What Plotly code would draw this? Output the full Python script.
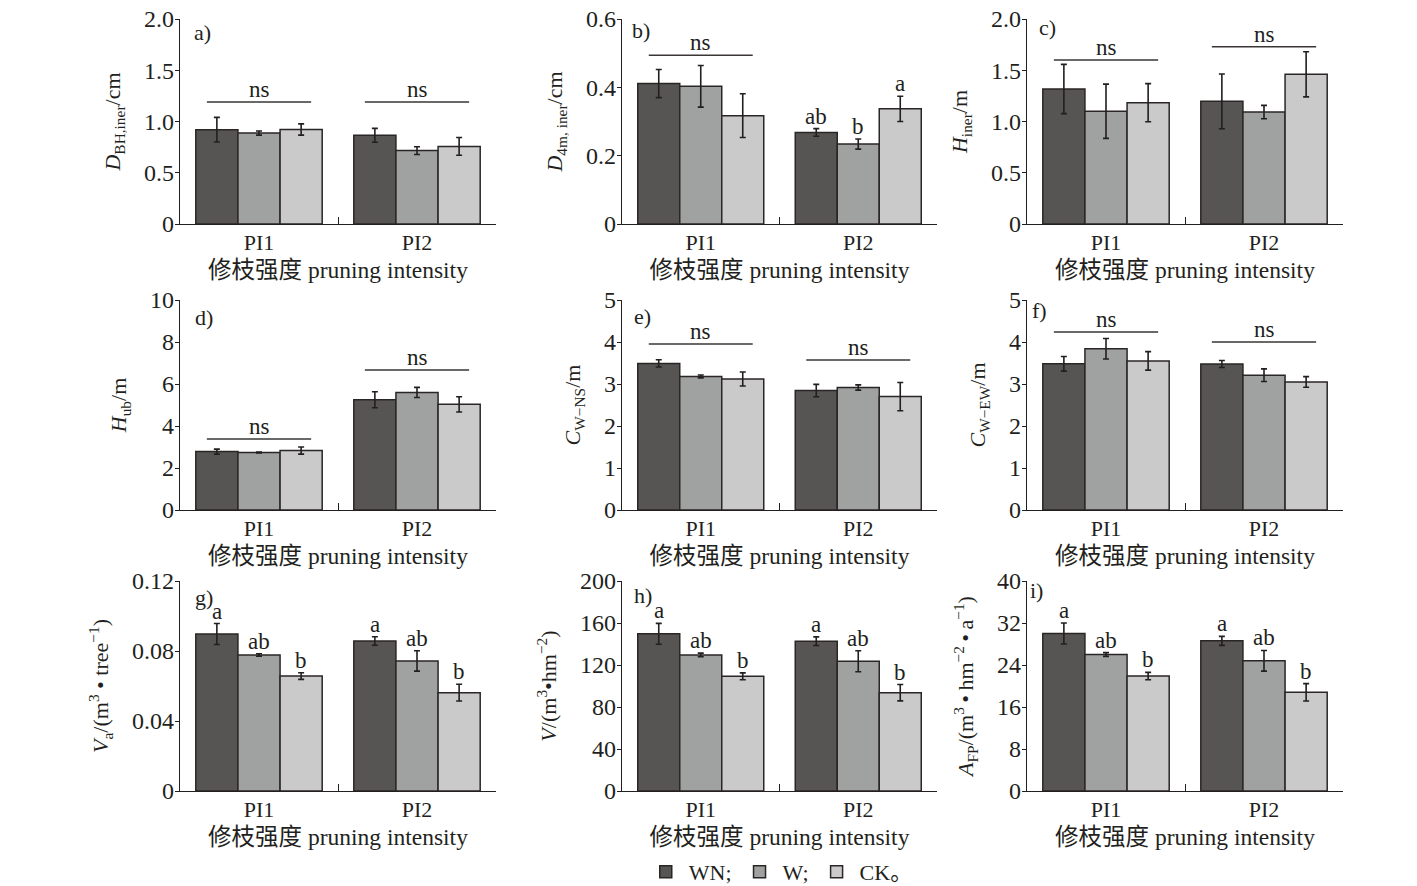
"""
Pruning intensity effects on growth traits (3x3 grouped bar panels)
"""

import plotly.graph_objects as go

# ---- data ----
groups = ["PI1", "PI2"]
legend_names = ["WN;", "W;", "CK。"]

# rows are WN, W, CK ; columns are PI1, PI2
dbh_mean = [[0.92, 0.865], [0.887, 0.716], [0.922, 0.757]]
dbh_err = [[0.12, 0.068], [0.02, 0.038], [0.055, 0.087]]

d4m_mean = [[0.411, 0.268], [0.403, 0.234], [0.317, 0.337]]
d4m_err = [[0.041, 0.011], [0.061, 0.015], [0.064, 0.037]]

hiner_mean = [[1.317, 1.197], [1.10, 1.092], [1.184, 1.46]]
hiner_err = [[0.24, 0.267], [0.265, 0.065], [0.186, 0.22]]

hub_mean = [[2.78, 5.25], [2.74, 5.60], [2.83, 5.03]]
hub_err = [[0.12, 0.38], [0.02, 0.24], [0.17, 0.36]]

cwns_mean = [[3.49, 2.845], [3.18, 2.916], [3.12, 2.70]]
cwns_err = [[0.087, 0.147], [0.035, 0.063], [0.166, 0.337]]

cwew_mean = [[3.48, 3.475], [3.84, 3.21], [3.55, 3.05]]
cwew_err = [[0.174, 0.083], [0.245, 0.15], [0.22, 0.126]]

va_mean = [[0.0897, 0.0857], [0.0777, 0.0743], [0.0657, 0.0562]]
va_err = [[0.006, 0.0024], [0.0007, 0.0058], [0.0019, 0.0048]]

vol_mean = [[149.7, 142.7], [129.6, 123.6], [109.2, 93.6]]
vol_err = [[9.9, 4.1], [1.75, 10.0], [3.3, 7.8]]

afp_mean = [[30.0, 28.6], [26.0, 24.8], [21.9, 18.8]]
afp_err = [[2.0, 0.86], [0.35, 1.97], [0.7, 1.65]]

# significance letters (rows WN, W, CK)
b_letters = [["", "ab"], ["", "b"], ["", "a"]]
ghi_letters = [["a", "a"], ["ab", "ab"], ["b", "b"]]

# height of the "ns" bars per group (None = no bar)
ns_a = [1.19, 1.19]
ns_b = [0.494, None]
ns_c = [1.60, 1.73]
ns_d = [3.38, 6.67]
ns_e = [3.95, 3.57]
ns_f = [4.24, 4.00]

ticks_a = [0, 0.5, 1.0, 1.5, 2.0]
ticktext_a = ["0", "0.5", "1.0", "1.5", "2.0"]
ticks_b = [0, 0.2, 0.4, 0.6]
ticktext_b = ["0", "0.2", "0.4", "0.6"]
ticks_d = [0, 2, 4, 6, 8, 10]
ticks_e = [0, 1, 2, 3, 4, 5]
ticks_g = [0, 0.04, 0.08, 0.12]
ticktext_g = ["0", "0.04", "0.08", "0.12"]
ticks_h = [0, 40, 80, 120, 160, 200]
ticks_i = [0, 8, 16, 24, 32, 40]

panels = [
    dict(tag="a)", mean=dbh_mean, err=dbh_err, ns=ns_a, letters=None,
         tv=ticks_a, tt=ticktext_a, title="<i>D</i><sub>BH,iner</sub>/cm"),
    dict(tag="b)", mean=d4m_mean, err=d4m_err, ns=ns_b, letters=b_letters,
         tv=ticks_b, tt=ticktext_b, title="<i>D</i><sub>4m, iner</sub>/cm"),
    dict(tag="c)", mean=hiner_mean, err=hiner_err, ns=ns_c, letters=None,
         tv=ticks_a, tt=ticktext_a, title="<i>H</i><sub>iner</sub>/m"),
    dict(tag="d)", mean=hub_mean, err=hub_err, ns=ns_d, letters=None,
         tv=ticks_d, tt=[str(t) for t in ticks_d], title="<i>H</i><sub>ub</sub>/m"),
    dict(tag="e)", mean=cwns_mean, err=cwns_err, ns=ns_e, letters=None,
         tv=ticks_e, tt=[str(t) for t in ticks_e], title="<i>C</i><sub>W−NS</sub>/m"),
    dict(tag="f)", mean=cwew_mean, err=cwew_err, ns=ns_f, letters=None,
         tv=ticks_e, tt=[str(t) for t in ticks_e], title="<i>C</i><sub>W−EW</sub>/m"),
    dict(tag="g)", mean=va_mean, err=va_err, ns=None, letters=ghi_letters,
         tv=ticks_g, tt=ticktext_g,
         title="<i>V</i><sub>a</sub>/(m<sup>3</sup> • tree<sup>−1</sup>)"),
    dict(tag="h)", mean=vol_mean, err=vol_err, ns=None, letters=ghi_letters,
         tv=ticks_h, tt=[str(t) for t in ticks_h],
         title="<i>V</i>/(m<sup>3</sup>•hm<sup>−2</sup>)"),
    dict(tag="i)", mean=afp_mean, err=afp_err, ns=None, letters=ghi_letters,
         tv=ticks_i, tt=[str(t) for t in ticks_i],
         title="<i>A</i><sub>FP</sub>/(m<sup>3</sup>\u2009•\u2009hm<sup>−2</sup>\u2009•\u2009a<sup>−1</sup>)"),
]

# ---- style ----
FONT = "Liberation Serif, Noto Sans CJK SC, serif"
INK = "#231f20"
BAR_COLORS = ["#575553", "#a0a2a1", "#cacaca"]
W, H = 1417, 886
PAGE_PAD = 8  # browser body margin
COL_PX = [(180, 496), (622, 937), (1027, 1343)]
ROW_PX = [(224, 19), (510, 300), (791, 581)]
LABEL_DX = [12, 8, 10, 13, 10, 3, 13, 10, 1]
LABEL_DY = [13, 11, 8, 17, 16, 10, 16, 14, 9]
BAR_STEP = 0.8 / 3

fig = go.Figure()
annotations = []
shapes = []

for k, p in enumerate(panels):
    r, c = divmod(k, 3)
    sfx = "" if k == 0 else str(k + 1)
    xa, ya = "x" + sfx, "y" + sfx

    for t in range(3):
        fig.add_trace(go.Bar(
            x=groups, y=p["mean"][t], name=legend_names[t],
            xaxis=xa, yaxis=ya,
            marker=dict(color=BAR_COLORS[t], line=dict(color="#2b2626", width=1.5)),
            error_y=dict(type="data", array=p["err"][t], color=INK, thickness=1.6, width=3),
            showlegend=(k == 0),
        ))

    # significance letters above error bars
    if p["letters"]:
        for t in range(3):
            for g in range(2):
                if p["letters"][t][g]:
                    annotations.append(dict(
                        xref=xa, yref=ya, x=g + (t - 1) * BAR_STEP,
                        y=p["mean"][t][g] + p["err"][t][g],
                        text=p["letters"][t][g], showarrow=False,
                        yanchor="bottom", yshift=-2, font=dict(size=23, color=INK)))

    # "ns" brackets
    if p["ns"]:
        for g, lvl in enumerate(p["ns"]):
            if lvl is None:
                continue
            shapes.append(dict(type="line", xref=xa, yref=ya,
                               x0=g - 0.33, x1=g + 0.33, y0=lvl, y1=lvl,
                               line=dict(color="#3a3636", width=1.5)))
            annotations.append(dict(xref=xa, yref=ya, x=g, y=lvl, text="ns",
                                    showarrow=False, yanchor="bottom", yshift=-2,
                                    font=dict(size=23, color=INK)))

    # panel tag
    annotations.append(dict(xref=xa + " domain", yref=ya + " domain", x=0, y=1,
                            xanchor="left", yanchor="middle",
                            xshift=LABEL_DX[k], yshift=-LABEL_DY[k],
                            text=p["tag"], showarrow=False,
                            font=dict(size=22, color=INK)))

    x0, x1 = (v - PAGE_PAD for v in COL_PX[c])
    yb, yt = (v - PAGE_PAD for v in ROW_PX[r])
    fig.layout["xaxis" + sfx] = dict(
        domain=[x0 / W, x1 / W], anchor=ya, type="category", automargin=False,
        range=[-0.5, 1.5], tickson="boundaries", ticks="inside", ticklen=7,
        tickcolor=INK, tickwidth=1.2, showline=True, linecolor=INK, linewidth=1.2,
        showgrid=False, zeroline=False, ticklabelstandoff=-2,
        tickfont=dict(size=22, color=INK),
        title=dict(text="修枝强度 pruning intensity", font=dict(size=23.5, color=INK),
                   standoff=8),
    )
    fig.layout["yaxis" + sfx] = dict(
        domain=[1 - yb / H, 1 - yt / H], anchor=xa, automargin=False,
        range=[p["tv"][0], p["tv"][-1]], tickvals=p["tv"], ticktext=p["tt"],
        ticks="outside", ticklen=4, tickcolor=INK, tickwidth=1.2,
        showline=True, linecolor=INK, linewidth=1.2, showgrid=False, zeroline=False,
        ticklabelstandoff=-4, ticklabeloverflow="allow",
        tickfont=dict(size=24, color=INK),
        title=dict(text=p["title"], font=dict(size=22, color=INK), standoff=17),
    )

fig.update_layout(
    width=W, height=H,
    margin=dict(l=0, r=0, t=0, b=0, autoexpand=False),
    barmode="group", bargap=0.2, bargroupgap=0,
    paper_bgcolor="white", plot_bgcolor="white",
    font=dict(family=FONT, color=INK),
    annotations=annotations, shapes=shapes,
    legend=dict(orientation="h", x=0.545, xanchor="center", y=0.025, yanchor="middle",
                font=dict(size=22, color=INK), itemwidth=36),
)

fig.write_html("out.html")
